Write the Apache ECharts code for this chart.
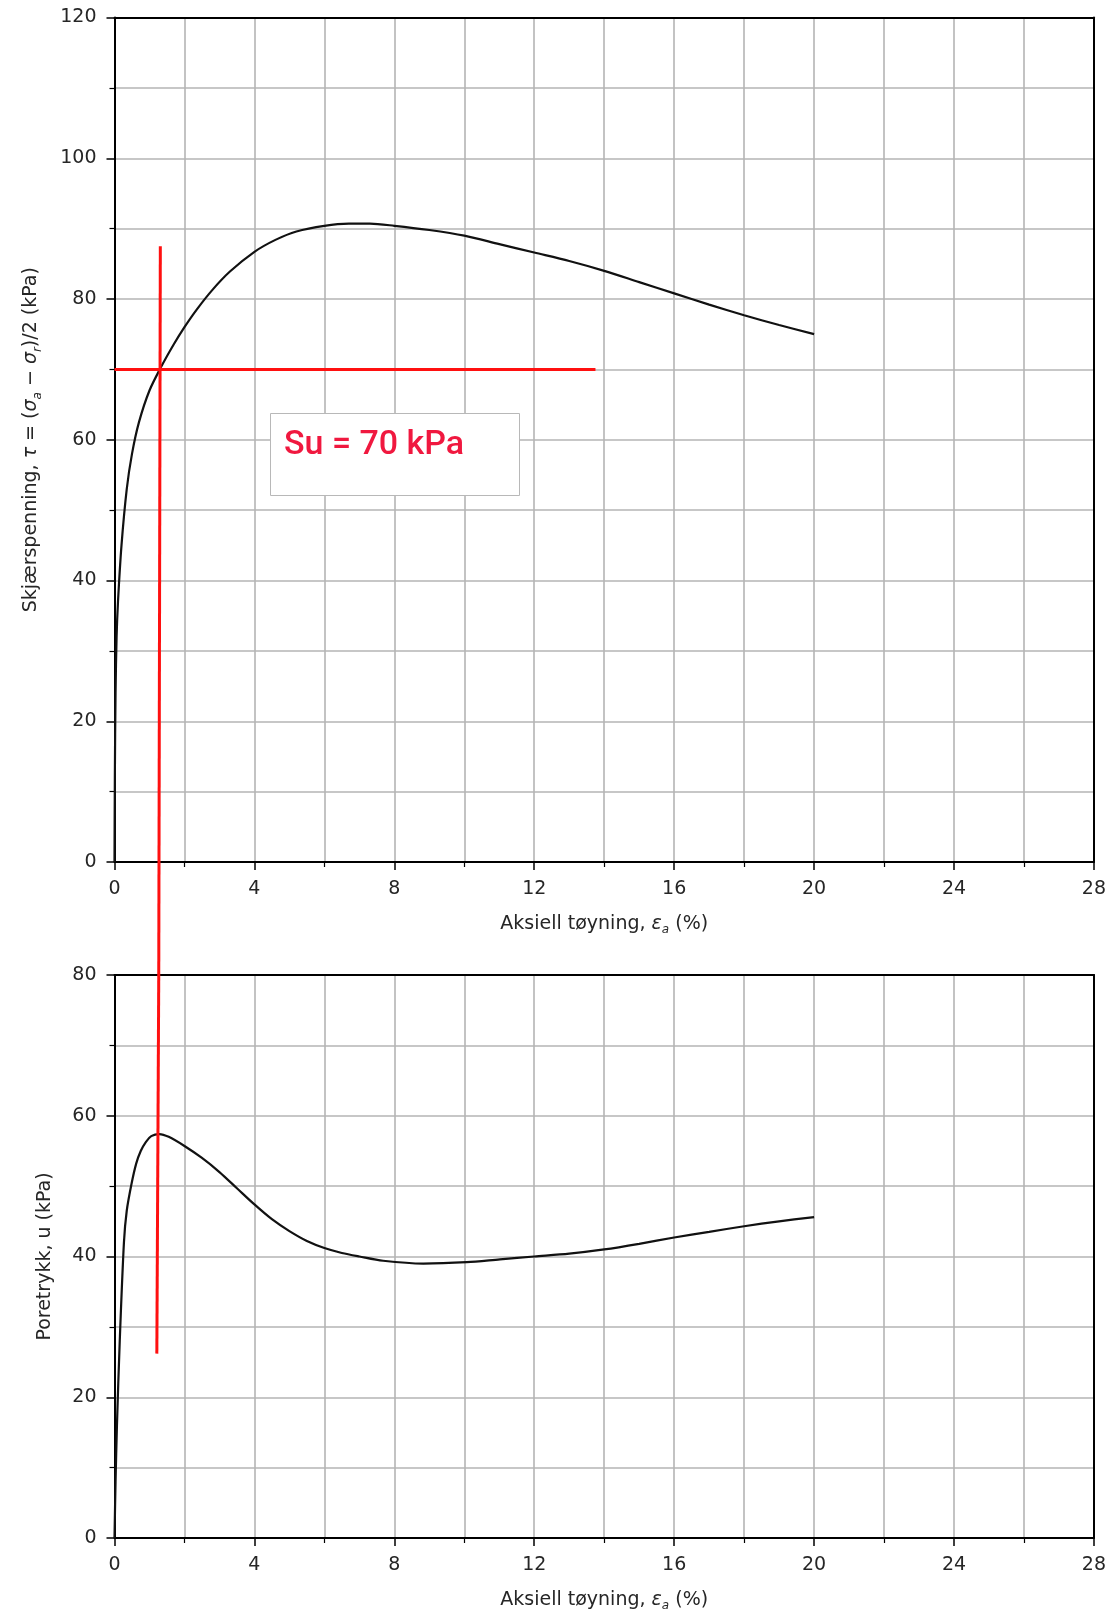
<!DOCTYPE html>
<html>
<head>
<meta charset="utf-8">
<script src="https://cdn.jsdelivr.net/npm/echarts@6/dist/echarts.min.js"></script>
<style>
html,body{margin:0;padding:0;background:#fff;}
#chart{width:1109px;height:1616px;}
</style>
</head>
<body>
<div id="chart"></div>
<script>
// ---- data ----
const shearStrain = [0, 0.01, 0.03, 0.06, 0.1, 0.2, 0.35, 0.5, 0.7, 1.0, 1.35, 1.7, 2.0, 2.35, 2.8, 3.3, 4.0, 4.6, 5.2, 6.0, 6.7, 7.3, 8.0, 9.0, 10.0, 11.0, 12.0, 13.0, 14.0, 15.0, 16.0, 17.0, 18.0, 19.0, 20.0];
const shearStress = [0, 12, 24, 32, 37, 45, 53, 58, 62.5, 67, 70.5, 73.6, 76.0, 78.5, 81.3, 83.9, 86.7, 88.4, 89.6, 90.4, 90.7, 90.7, 90.4, 89.8, 89.0, 87.8, 86.6, 85.4, 84.0, 82.4, 80.8, 79.2, 77.7, 76.3, 75.0];

const poreStrain = [0, 0.03, 0.07, 0.15, 0.27, 0.35, 0.49, 0.62, 0.75, 0.9, 1.05, 1.28, 1.55, 2.0, 2.5, 3.0, 3.5, 4.0, 4.5, 5.0, 5.5, 6.0, 6.5, 7.0, 7.68, 8.83, 10.07, 11.02, 12.0, 13.0, 14.0, 15.0, 16.0, 17.0, 18.0, 19.0, 20.0];
const porePressure = [0, 8, 16, 28, 42, 46.5, 50.4, 53.2, 55.0, 56.3, 57.1, 57.4, 57.0, 55.7, 54.0, 52.0, 49.7, 47.4, 45.3, 43.6, 42.2, 41.2, 40.5, 40.0, 39.4, 39.0, 39.2, 39.6, 40.0, 40.4, 41.0, 41.8, 42.7, 43.5, 44.3, 45.0, 45.6];

// red construction lines
const suHorizX = [0, 13.75];
const suHorizY = [70, 70];
const suVertTopX = [1.31, 1.265];
const suVertTopY = [87.5, -16.1];
const suVertBotX = [1.265, 1.21];
const suVertBotY = [80, 26.2];

const xTicks = [0, 28, 4];      // min, max, interval
const yTopTicks = [0, 120, 20];
const yBotTicks = [0, 80, 20];
const suLabel = 'Su = 70 kPa';

// ---- chart ----
const zip = (a, b) => a.map((v, i) => [v, b[i]]);
const FONT = 'DejaVu Sans';
const TXT = '#262626';
const GRIDC = '#b4b4b4';

const richName = {
  n: {fontFamily: FONT, fontSize: 19, color: TXT},
  i: {fontFamily: FONT, fontSize: 19, color: TXT, fontStyle: 'italic'},
  s: {fontFamily: FONT, fontSize: 12, color: TXT, fontStyle: 'italic', verticalAlign: 'bottom', lineHeight: 24}
};

function xAxisMain(gridIndex) {
  return {
    type: 'value', gridIndex, min: xTicks[0], max: xTicks[1], interval: xTicks[2],
    name: '{n|Aksiell tøyning, }{i|ε}{s|a}{n| (%)}',
    nameLocation: 'middle', nameGap: 50,
    nameTextStyle: {rich: richName},
    axisLine: {show: true, onZero: false, lineStyle: {color: '#000', width: 2}},
    axisTick: {show: true, length: 8, lineStyle: {color: '#000', width: 1.5}},
    minorTick: {show: true, splitNumber: 2, length: 5, lineStyle: {color: '#000', width: 1.2}},
    axisLabel: {fontFamily: FONT, fontSize: 19, color: TXT, margin: 18},
    splitLine: {show: true, showMinLine: false, showMaxLine: false, lineStyle: {color: GRIDC, width: 1.6}},
    minorSplitLine: {show: true, lineStyle: {color: GRIDC, width: 1.6}}
  };
}
function yAxisMain(gridIndex, ticks, nameRich, gap) {
  return {
    type: 'value', gridIndex, min: ticks[0], max: ticks[1], interval: ticks[2],
    name: nameRich, nameLocation: 'middle', nameGap: gap,
    nameTextStyle: {rich: richName},
    axisLine: {show: true, onZero: false, lineStyle: {color: '#000', width: 2}},
    axisTick: {show: true, length: 8, lineStyle: {color: '#000', width: 1.5}},
    minorTick: {show: true, splitNumber: 2, length: 5, lineStyle: {color: '#000', width: 1.2}},
    axisLabel: {fontFamily: FONT, fontSize: 19, color: TXT, margin: 18},
    splitLine: {show: true, showMinLine: false, showMaxLine: false, lineStyle: {color: GRIDC, width: 1.6}},
    minorSplitLine: {show: true, lineStyle: {color: GRIDC, width: 1.6}}
  };
}
function frameX(gridIndex) {
  return {type: 'value', gridIndex, position: 'top', min: xTicks[0], max: xTicks[1],
    axisLine: {show: true, onZero: false, lineStyle: {color: '#000', width: 2}},
    axisTick: {show: false}, axisLabel: {show: false}, splitLine: {show: false}};
}
function frameY(gridIndex, ticks) {
  return {type: 'value', gridIndex, position: 'right', min: ticks[0], max: ticks[1],
    axisLine: {show: true, onZero: false, lineStyle: {color: '#000', width: 2}},
    axisTick: {show: false}, axisLabel: {show: false}, splitLine: {show: false}};
}

const chart = echarts.init(document.getElementById('chart'), null, {renderer: 'canvas'});
chart.setOption({
  backgroundColor: '#fff',
  animation: false,
  grid: [
    {left: 114.5, top: 17.5, width: 980, height: 844.5},
    {left: 114.5, top: 975, width: 980, height: 563}
  ],
  xAxis: [xAxisMain(0), xAxisMain(1), frameX(0), frameX(1)],
  yAxis: [
    yAxisMain(0, yTopTicks, '{n|Skjærspenning, }{i|τ}{n| = (}{i|σ}{s|a}{n| − }{i|σ}{s|r}{n|)/2 (kPa)}', 71),
    yAxisMain(1, yBotTicks, '{n|Poretrykk, u (kPa)}', 60),
    frameY(0, yTopTicks), frameY(1, yBotTicks)
  ],
  series: [
    {type: 'line', xAxisIndex: 0, yAxisIndex: 0, data: zip(shearStrain, shearStress),
     showSymbol: false, smooth: 0.3, lineStyle: {color: '#111', width: 2.2}, z: 3},
    {type: 'line', xAxisIndex: 1, yAxisIndex: 1, data: zip(poreStrain, porePressure),
     showSymbol: false, smooth: 0.3, lineStyle: {color: '#111', width: 2.2}, z: 3},
    {type: 'line', xAxisIndex: 0, yAxisIndex: 0, data: zip(suHorizX, suHorizY),
     showSymbol: false, lineStyle: {color: '#ff1010', width: 3}, z: 4},
    {type: 'line', xAxisIndex: 0, yAxisIndex: 0, data: zip(suVertTopX, suVertTopY), clip: false,
     showSymbol: false, lineStyle: {color: '#ff1010', width: 3}, z: 4},
    {type: 'line', xAxisIndex: 1, yAxisIndex: 1, data: zip(suVertBotX, suVertBotY), clip: false,
     showSymbol: false, lineStyle: {color: '#ff1010', width: 3}, z: 4}
  ],
  graphic: [
    {type: 'rect', left: 270, top: 413, z: 100,
     shape: {width: 249, height: 82},
     style: {fill: '#fff', stroke: '#b8b8b8', lineWidth: 1}},
    {type: 'text', left: 284, top: 428, z: 101,
     style: {text: suLabel, fill: '#f0183f', font: '500 34px Roboto'}}
  ]
});
</script>
</body>
</html>
